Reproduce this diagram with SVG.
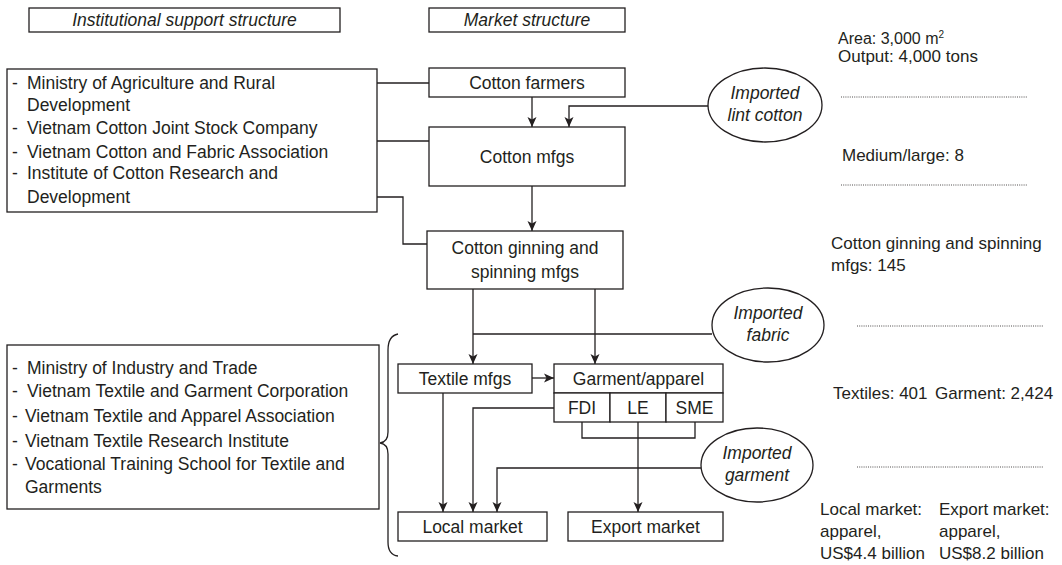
<svg xmlns="http://www.w3.org/2000/svg" width="1062" height="565" viewBox="0 0 1062 565">
<defs>
<marker id="ah" viewBox="0 0 10 10" refX="10" refY="5" markerWidth="10" markerHeight="10" markerUnits="userSpaceOnUse" orient="auto">
<path d="M0,0.5 L10,5 L0,9.5 L2.5,5 Z" fill="#231f20"/>
</marker>
<style>
.b rect,.b ellipse{fill:#fff;stroke:#231f20;stroke-width:1.3}
.c path,.c line{fill:none;stroke:#231f20;stroke-width:1.3}
.dot{stroke:#231f20;stroke-width:0.8;stroke-dasharray:1 1.2}
text{font-family:"Liberation Sans",Arial,sans-serif;fill:#231f20;font-size:17.5px}
.it{font-style:italic}
.m{text-anchor:middle}
#stats text{font-size:17px}
</style>
</defs>
<rect width="1062" height="565" fill="#fff"/>

<g id="hdr-inst" class="b"><rect x="29" y="8" width="311" height="24"/><text class="it m" x="184.5" y="26">Institutional support structure</text></g>
<g id="hdr-market" class="b"><rect x="429" y="8" width="196" height="24"/><text class="it m" x="527" y="26">Market structure</text></g>

<g id="inst-cotton" class="b"><rect x="7" y="69" width="370" height="143"/>
<text x="12" y="89">-</text><text x="27" y="89">Ministry of Agriculture and Rural</text>
<text x="27" y="111">Development</text>
<text x="12" y="134">-</text><text x="27" y="134">Vietnam Cotton Joint Stock Company</text>
<text x="12" y="158">-</text><text x="27" y="158">Vietnam Cotton and Fabric Association</text>
<text x="12" y="179">-</text><text x="27" y="179">Institute of Cotton Research and</text>
<text x="27" y="203">Development</text>
</g>

<g id="inst-textile" class="b"><rect x="7" y="345" width="372" height="164"/>
<text x="12" y="374">-</text><text x="27" y="374">Ministry of Industry and Trade</text>
<text x="12" y="397">-</text><text x="27" y="397">Vietnam Textile and Garment Corporation</text>
<text x="12" y="422">-</text><text x="25" y="422">Vietnam Textile and Apparel Association</text>
<text x="12" y="447">-</text><text x="25" y="447">Vietnam Textile Research Institute</text>
<text x="12" y="470">-</text><text x="25" y="470">Vocational Training School for Textile and</text>
<text x="25" y="493">Garments</text>
</g>

<g id="farmers" class="b"><rect x="429" y="68" width="196" height="29"/><text class="m" x="527" y="88.5">Cotton farmers</text></g>
<g id="cotton-mfgs" class="b"><rect x="429" y="127" width="196" height="59"/><text class="m" x="527" y="163">Cotton mfgs</text></g>
<g id="ginning" class="b"><rect x="427" y="231" width="196" height="58"/><text class="m" x="525" y="254">Cotton ginning and</text><text class="m" x="525" y="278">spinning mfgs</text></g>
<g id="textile" class="b"><rect x="398" y="364" width="134" height="29"/><text class="m" x="465" y="384.5">Textile mfgs</text></g>
<g id="garment" class="b"><rect x="554" y="364" width="169" height="29"/><text class="m" x="638.5" y="384.5">Garment/apparel</text>
<rect x="554" y="393" width="56" height="29"/><text class="m" x="582" y="413.5">FDI</text>
<rect x="610" y="393" width="56" height="29"/><text class="m" x="638" y="413.5">LE</text>
<rect x="666" y="393" width="57" height="29"/><text class="m" x="694.5" y="413.5">SME</text>
</g>
<g id="local" class="b"><rect x="398" y="512" width="149" height="29"/><text class="m" x="472.5" y="532.5">Local market</text></g>
<g id="export" class="b"><rect x="568" y="512" width="155" height="29"/><text class="m" x="645.5" y="532.5">Export market</text></g>

<g id="imp-lint" class="b"><ellipse cx="765" cy="105" rx="57" ry="37"/><text class="it m" x="765" y="99">Imported</text><text class="it m" x="765" y="121">lint cotton</text></g>
<g id="imp-fabric" class="b"><ellipse cx="768" cy="325" rx="56" ry="37"/><text class="it m" x="768" y="319">Imported</text><text class="it m" x="768" y="341">fabric</text></g>
<g id="imp-garment" class="b"><ellipse cx="757" cy="465" rx="56" ry="37"/><text class="it m" x="757" y="459">Imported</text><text class="it m" x="757" y="481">garment</text></g>

<g id="brace" class="c"><path d="M398,334 Q388,336 388,350 L388,432 Q388,442 380,443 Q388,444 388,454 L388,542 Q388,555 398,556"/></g>

<g id="connectors" class="c">
<line x1="377" y1="83" x2="429" y2="83"/>
<line x1="377" y1="141" x2="429" y2="141"/>
<path d="M377,197 H403 V244 H427"/>
<line x1="532" y1="97" x2="532" y2="127" marker-end="url(#ah)"/>
<path d="M708,106 H569 V127" marker-end="url(#ah)"/>
<line x1="532" y1="186" x2="532" y2="231" marker-end="url(#ah)"/>
<line x1="473" y1="289" x2="473" y2="364" marker-end="url(#ah)"/>
<line x1="595" y1="289" x2="595" y2="364" marker-end="url(#ah)"/>
<line x1="473" y1="334" x2="712" y2="334"/>
<line x1="532" y1="378" x2="554" y2="378" marker-end="url(#ah)"/>
<path d="M582,422 V438 H695 V422"/>
<line x1="638" y1="422" x2="638" y2="512" marker-end="url(#ah)"/>
<line x1="443" y1="393" x2="443" y2="512" marker-end="url(#ah)"/>
<path d="M554,408 H473 V512" marker-end="url(#ah)"/>
<path d="M701,468 H497 V512" marker-end="url(#ah)"/>
</g>

<g id="stats">
<text x="838" y="44" style="font-size:16px">Area: 3,000 m<tspan dy="-6" style="font-size:10px">2</tspan></text>
<text x="838" y="62">Output: 4,000 tons</text>
<line class="dot" x1="841" y1="97" x2="1027" y2="97"/>
<text x="842" y="161">Medium/large: 8</text>
<line class="dot" x1="841" y1="185" x2="1027" y2="185"/>
<text x="831" y="249">Cotton ginning and spinning</text>
<text x="831" y="271">mfgs: 145</text>
<line class="dot" x1="857" y1="326" x2="1043" y2="326"/>
<text x="833" y="399">Textiles: 401</text>
<text x="935" y="399">Garment: 2,424</text>
<line class="dot" x1="857" y1="467" x2="1043" y2="467"/>
<text x="820" y="515">Local market:</text>
<text x="820" y="537">apparel,</text>
<text x="820" y="559">US$4.4 billion</text>
<text x="939" y="515">Export market:</text>
<text x="939" y="537">apparel,</text>
<text x="939" y="559">US$8.2 billion</text>
</g>
</svg>
